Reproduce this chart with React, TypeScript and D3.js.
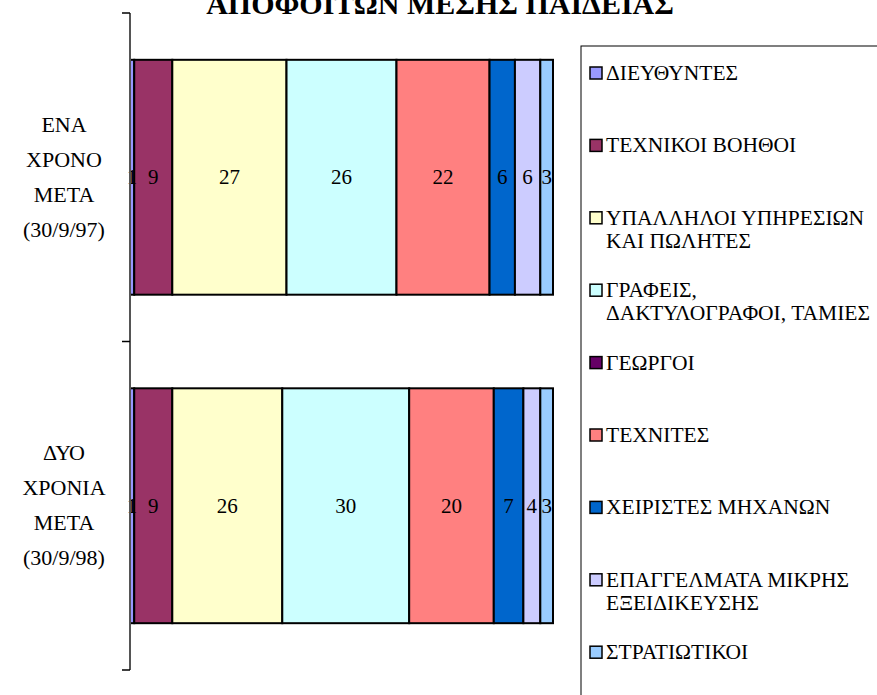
import React from "react";
import * as d3 from "d3";

// categories (rows), series names and values
const categories = ["ΕΝΑ ΧΡΟΝΟ ΜΕΤΑ (30/9/97)", "ΔΥΟ ΧΡΟΝΙΑ ΜΕΤΑ (30/9/98)"];
const categoryLines = [
  ["ΕΝΑ", "ΧΡΟΝΟ", "ΜΕΤΑ", "(30/9/97)"],
  ["ΔΥΟ", "ΧΡΟΝΙΑ", "ΜΕΤΑ", "(30/9/98)"],
];
const seriesNames = [
  "ΔΙΕΥΘΥΝΤΕΣ",
  "ΤΕΧΝΙΚΟΙ ΒΟΗΘΟΙ",
  "ΥΠΑΛΛΗΛΟΙ ΥΠΗΡΕΣΙΩΝ ΚΑΙ ΠΩΛΗΤΕΣ",
  "ΓΡΑΦΕΙΣ, ΔΑΚΤΥΛΟΓΡΑΦΟΙ, ΤΑΜΙΕΣ",
  "ΓΕΩΡΓΟΙ",
  "ΤΕΧΝΙΤΕΣ",
  "ΧΕΙΡΙΣΤΕΣ ΜΗΧΑΝΩΝ",
  "ΕΠΑΓΓΕΛΜΑΤΑ ΜΙΚΡΗΣ ΕΞΕΙΔΙΚΕΥΣΗΣ",
  "ΣΤΡΑΤΙΩΤΙΚΟΙ",
];
const legendLines = [
  ["ΔΙΕΥΘΥΝΤΕΣ"],
  ["ΤΕΧΝΙΚΟΙ ΒΟΗΘΟΙ"],
  ["ΥΠΑΛΛΗΛΟΙ ΥΠΗΡΕΣΙΩΝ", "ΚΑΙ ΠΩΛΗΤΕΣ"],
  ["ΓΡΑΦΕΙΣ,", "ΔΑΚΤΥΛΟΓΡΑΦΟΙ, ΤΑΜΙΕΣ"],
  ["ΓΕΩΡΓΟΙ"],
  ["ΤΕΧΝΙΤΕΣ"],
  ["ΧΕΙΡΙΣΤΕΣ ΜΗΧΑΝΩΝ"],
  ["ΕΠΑΓΓΕΛΜΑΤΑ ΜΙΚΡΗΣ", "ΕΞΕΙΔΙΚΕΥΣΗΣ"],
  ["ΣΤΡΑΤΙΩΤΙΚΟΙ"],
];
const values97 = [1, 9, 27, 26, 0, 22, 6, 6, 3];
const values98 = [1, 9, 26, 30, 0, 20, 7, 4, 3];
const colors = [
  "#9999FF", "#993366", "#FFFFCC", "#CCFFFF", "#660066",
  "#FF8080", "#0066CC", "#CCCCFF", "#99CCFF",
];
const title = "ΑΠΟΦΟΙΤΩΝ ΜΕΣΗΣ ΠΑΙΔΕΙΑΣ";

const W = 877;
const H = 695;
const FONT = "'Liberation Serif', Tinos, 'Times New Roman', serif";

export default function App() {
  const rows = [values97, values98].map((vals, i) => {
    const r: Record<string, any> = { cat: categories[i] };
    seriesNames.forEach((s, j) => (r[s] = vals[j]));
    return r;
  });
  const stacked = d3.stack().keys(seriesNames)(rows as any);

  const plot = { left: 130, right: 553, top: 13, bottom: 670 };
  const x = d3.scaleLinear().domain([0, 100]).range([plot.left, plot.right]);
  const y = d3
    .scaleBand()
    .domain(categories)
    .range([plot.top, plot.bottom])
    .paddingInner(0.285)
    .paddingOuter(0.1425);
  const band = (plot.bottom - plot.top) / categories.length;

  const legend = { x: 581, y: 46, first: 73, step: 72.4, lineH: 23 };

  return (
    <div style={{ position: "absolute", left: 0, top: 0 }}>
      <svg width={W} height={H}>
        <rect width={W} height={H} fill="#fff" />
        <text x={440} y={14} textAnchor="middle" fontSize={30} fontWeight="bold" fontFamily={FONT}>
          {title}
        </text>

        {/* segments */}
        {stacked.map((layer, si) => (
          <g key={si}>
            {layer.map((d, ci) => {
              const w = x(d[1]) - x(d[0]);
              if (w <= 0) return null;
              return (
                <rect
                  key={ci}
                  x={x(d[0])}
                  y={y(categories[ci])!}
                  width={w}
                  height={y.bandwidth()}
                  fill={colors[si]}
                  stroke="#000"
                  strokeWidth={2}
                />
              );
            })}
          </g>
        ))}

        {/* data labels */}
        {stacked.map((layer, si) =>
          layer.map((d, ci) => {
            const v = d[1] - d[0];
            if (v <= 0) return null;
            return (
              <text
                key={si + "-" + ci}
                x={(x(d[0]) + x(d[1])) / 2}
                y={y(categories[ci])! + y.bandwidth() / 2 + 7}
                textAnchor="middle"
                fontSize={21}
                fontFamily={FONT}
              >
                {v}
              </text>
            );
          })
        )}

        {/* category axis */}
        <line
          x1={plot.left}
          x2={plot.left}
          y1={plot.top}
          y2={plot.bottom}
          stroke="#555"
          strokeWidth={2}
        />
        {d3.range(categories.length + 1).map((i) => (
          <line
            key={i}
            x1={plot.left - 8}
            x2={plot.left}
            y1={plot.top + i * band}
            y2={plot.top + i * band}
            stroke="#000"
            strokeWidth={1.5}
          />
        ))}
        {categories.map((c, ci) => {
          const lines = categoryLines[ci];
          const cy = y(c)! + y.bandwidth() / 2;
          const lh = 35;
          return lines.map((l, li) => (
            <text
              key={c + li}
              x={64}
              y={cy + (li - (lines.length - 1) / 2) * lh + 7}
              textAnchor="middle"
              fontSize={22}
              fontFamily={FONT}
            >
              {l}
            </text>
          ));
        })}

        {/* legend */}
        <rect
          x={legend.x}
          y={legend.y}
          width={W}
          height={H}
          fill="none"
          stroke="#000"
          strokeWidth={1}
        />
        {seriesNames.map((s, i) => {
          const cy = legend.first + i * legend.step;
          return (
            <g key={s}>
              <rect
                x={590}
                y={cy - 6}
                width={12}
                height={12}
                fill={colors[i]}
                stroke="#000"
                strokeWidth={1.5}
              />
              {legendLines[i].map((l, li) => (
                <text
                  key={li}
                  x={606}
                  y={cy + li * legend.lineH + 7}
                  fontSize={21.5}
                  fontFamily={FONT}
                >
                  {l}
                </text>
              ))}
            </g>
          );
        })}
      </svg>
    </div>
  );
}
